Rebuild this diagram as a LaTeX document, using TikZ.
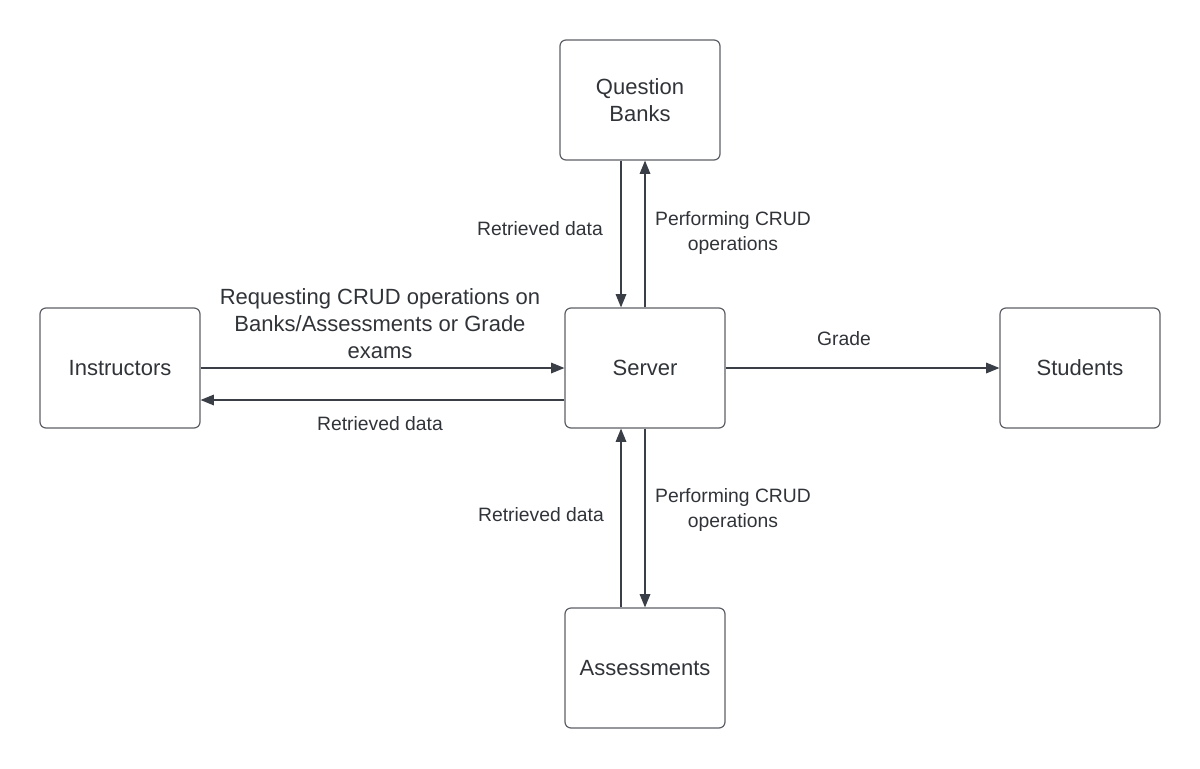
\documentclass[tikz,border=0pt]{standalone}
\usepackage{fontspec}
\setmainfont{Liberation Sans}
\usepackage{tikz}
\usetikzlibrary{calc}
\usetikzlibrary{positioning}
\usetikzlibrary{arrows.meta}
\definecolor{boxline}{HTML}{5C5F66}
\definecolor{flowline}{HTML}{3A3F47}
\definecolor{txt}{HTML}{303338}
\tikzstyle{entity}=[draw=boxline, line width=0.9pt, rounded corners=4.5pt, minimum width=120pt, minimum height=90pt, align=center, text=txt, font=\fontsize{16.5}{20.25}\selectfont]
\tikzstyle{flow}=[draw=flowline, line width=0.9pt, -{Triangle[length=10pt,width=8pt]}]
\tikzstyle{flowlabel}=[text=txt, align=center, inner sep=0pt, font=\fontsize{14.5}{18.75}\selectfont]
\tikzstyle{biglabel}=[text=txt, align=center, inner sep=0pt, font=\fontsize{16.5}{20.25}\selectfont]

\begin{document}
\begin{tikzpicture}[x=0.75pt, y=-0.75pt]
    \useasboundingbox (0,0) rectangle (1200,768);
    % entities
    \node[entity] (qb) at (640,100) {Question\\Banks};
    \node[entity] (srv) at (645,368) {Server};
    \node[entity] (ins) at (120,368) {Instructors};
    \node[entity] (stu) at (1080,368) {Students};
    \node[entity] (as) at (645,668) {Assessments};
    % helper points
    \coordinate (srvn) at ($(srv.north)+(-24,0)$);
    \coordinate (srvs) at ($(srv.south)+(-24,0)$);
    \coordinate (srvw) at ($(srv.west)+(0,32)$);
    % flows
    \draw[flow] (qb.south -| srvn) -- (srvn);
    \draw[flow] (srv.north) -- (srv.north |- qb.south);
    \draw[flow] (ins) -- (srv);
    \draw[flow] (srvw) -- (srvw -| ins.east);
    \draw[flow] (srv) -- (stu);
    \draw[flow] (as.north -| srvs) -- (srvs);
    \draw[flow] (srv.south) -- (as.north);
    % labels
    \node[flowlabel] (lqbret) at (540,229) {Retrieved data};
    \node[flowlabel] (lqbcrud) at (733,233) {Performing CRUD\\operations};
    \node[biglabel] (lreq) at (380,324) {Requesting CRUD operations on\\Banks/Assessments or Grade\\exams};
    \node[flowlabel] (linsret) at (380,424) {Retrieved data};
    \node[flowlabel] (lgrade) at (844,339) {Grade};
    \node[flowlabel] (lasret) at (541,515) {Retrieved data};
    \node[flowlabel] (lascrud) at (733,510) {Performing CRUD\\operations};
\end{tikzpicture}
\end{document}
